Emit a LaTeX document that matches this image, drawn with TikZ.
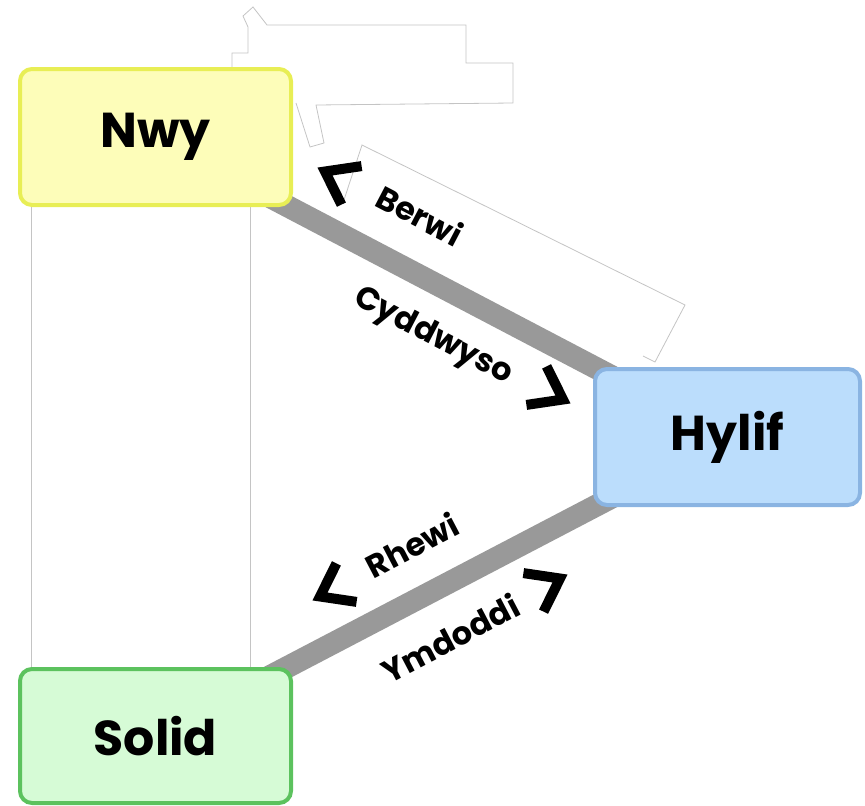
\documentclass[tikz,border=0pt]{standalone}
\usepackage{fontspec}
\setmainfont{Poppins}
\usetikzlibrary{calc}
\definecolor{nwyfill}{HTML}{FDFDB9}
\definecolor{nwyline}{HTML}{E8EE55}
\definecolor{hylfill}{HTML}{BBDDFC}
\definecolor{hylline}{HTML}{8AB4E2}
\definecolor{solfill}{HTML}{D6FBD6}
\definecolor{solline}{HTML}{5CC25E}
\definecolor{band}{HTML}{999999}
\definecolor{faint}{HTML}{C4C4C4}
\tikzset{
  statebox/.style={rounded corners=12pt, line width=4pt, inner sep=0pt,
    font=\fontsize{49}{56}\selectfont\bfseries},
  bandline/.style={line width=22pt, band},
  thinline/.style={line width=0.8pt, faint},
  edgelabel/.style={font=\fontsize{32}{36}\selectfont\bfseries, inner sep=0pt},
  chev/.style={line width=10pt, black, line join=miter, line cap=butt}
}
\begin{document}
\begin{tikzpicture}[x=1pt,y=1pt]
\useasboundingbox (0,0) rectangle (865,-806);
% faint background outlines
\draw[thinline] (31.5,-207) -- (31.5,-667);
\draw[thinline] (250.5,-207) -- (250.5,-667);
\draw[thinline] (232,-67) -- (232,-53) -- (248,-53) -- (248,-27) -- (243,-16) -- (253,-7) -- (267,-25) -- (466,-25) -- (466,-63) -- (513,-63) -- (513,-103) -- (316,-105) -- (324,-143) -- (310,-147) -- (296,-103);
\draw[thinline] (343,-203) -- (362,-145) -- (685,-305) -- (655,-362) -- (643,-356);
% bands
\coordinate (nwyc) at (155.5,-137);
\coordinate (hylc) at (727.5,-437);
\coordinate (solc) at (155.5,-736);
\draw[bandline] (nwyc) -- (hylc);
\draw[bandline] (solc) -- (hylc);
% state boxes
\node[statebox, draw=nwyline, fill=nwyfill, minimum width=271pt, minimum height=136pt] (nwy) at (nwyc) {Nwy};
\node[statebox, draw=hylline, fill=hylfill, minimum width=265pt, minimum height=136pt] (hylif) at (hylc) {Hylif};
\node[statebox, draw=solline, fill=solfill, minimum width=271pt, minimum height=134pt] (solid) at (solc) {Solid};
% labels
\node[edgelabel, rotate=-27.6] (berwi) at (420,-215) {Berwi};
\node[edgelabel, rotate=-27.6] (cydd) at (433,-337) {Cyddwyso};
\node[edgelabel, rotate=27.6] (rhewi) at (412,-545) {Rhewi};
\node[edgelabel, rotate=27.6] (ymdo) at (450,-638) {Ymdoddi};
% chevrons
\coordinate (c1) at (325,-171.5);
\draw[chev] ($(c1)+(8.4:37)$) -- (c1) -- ($(c1)+(-63.6:37)$);
\coordinate (c2) at (563,-399.5);
\draw[chev] ($(c2)+(116.4:37)$) -- (c2) -- ($(c2)+(188.4:37)$);
\coordinate (c3) at (320,-596.5);
\draw[chev] ($(c3)+(63.6:37)$) -- (c3) -- ($(c3)+(-8.4:37)$);
\coordinate (c4) at (560,-578.5);
\draw[chev] ($(c4)+(171.6:37)$) -- (c4) -- ($(c4)+(243.6:37)$);
\end{tikzpicture}
\end{document}
